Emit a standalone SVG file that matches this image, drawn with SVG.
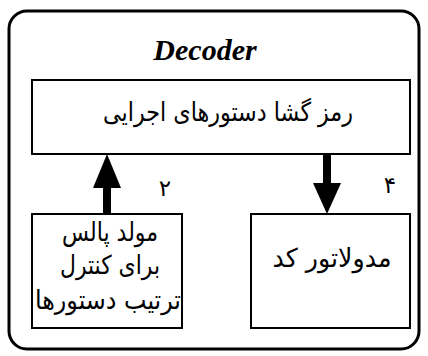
<svg xmlns="http://www.w3.org/2000/svg" width="428" height="356" viewBox="0 0 428 356">
<style>
.box{fill:#fff;stroke:#000;stroke-width:2}
.fa{font-family:"DejaVu Sans",sans-serif;font-size:26px;fill:#000;text-anchor:middle}
.num{font-family:"DejaVu Sans",sans-serif;font-size:23px;fill:#000;text-anchor:middle}
</style>
<rect x="0" y="0" width="428" height="356" fill="#fff"/>
<g id="frame">
<rect x="9" y="11" width="410" height="338" rx="18" ry="18" fill="none" stroke="#000" stroke-width="3"/>
<text x="205" y="60" font-family="Liberation Serif,serif" font-size="30" font-weight="bold" font-style="italic" text-anchor="middle">Decoder</text>
</g>
<g id="decoder">
<rect class="box" x="32" y="80" width="378" height="74"/>
<text class="fa" x="228" y="121" direction="rtl" textLength="250" lengthAdjust="spacingAndGlyphs">رمز گشا دستورهای اجرایی</text>
</g>
<g id="pulse">
<rect class="box" x="32" y="214" width="150" height="114"/>
<text class="fa" x="110" y="241" direction="rtl" textLength="96" lengthAdjust="spacingAndGlyphs">مولد پالس</text>
<text class="fa" x="110" y="274" direction="rtl" textLength="100" lengthAdjust="spacingAndGlyphs">برای کنترل</text>
<text class="fa" x="108" y="309" direction="rtl" textLength="146" lengthAdjust="spacingAndGlyphs">ترتیب دستورها</text>
</g>
<g id="modulator">
<rect class="box" x="251" y="214" width="159" height="114"/>
<text class="fa" x="332" y="267" direction="rtl" textLength="119" lengthAdjust="spacingAndGlyphs">مدولاتور کد</text>
</g>
<g id="connectors">
<rect x="103" y="186" width="8" height="28" fill="#000"/>
<polygon points="107,154 93,188 121,188" fill="#000"/>
<text class="num" x="165" y="196">۲</text>
<rect x="323" y="154" width="8" height="30" fill="#000"/>
<polygon points="327,214 313,183 341,183" fill="#000"/>
<text class="num" x="390" y="193">۴</text>
</g>
</svg>
